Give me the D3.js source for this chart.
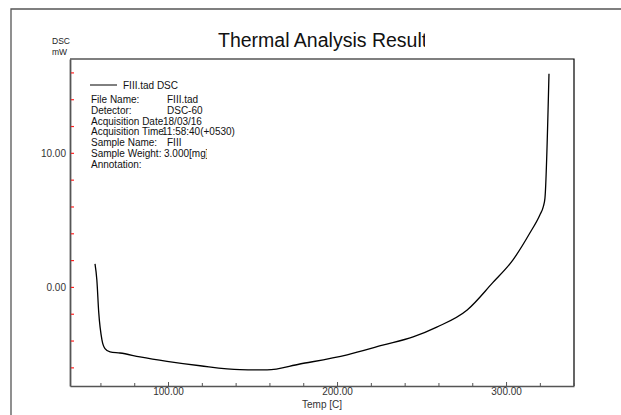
<!DOCTYPE html>
<html>
<head>
<meta charset="utf-8">
<script src="https://cdn.jsdelivr.net/npm/d3@7"></script>
<style>
  html, body { margin: 0; padding: 0; background: #fff; }
  svg { display: block; font-family: "Liberation Sans", Arial, sans-serif; }
</style>
</head>
<body>
<svg id="chart" width="621" height="415"></svg>
<script>
// ---- data ----
const temps = [56.8, 57.9, 59.0, 60.9, 62.7, 65.7, 71.6, 83.4, 99.4, 119, 142.6, 158.6, 178, 206, 227, 245, 259, 277, 292, 304, 314, 320, 322, 323, 325.4];
const dsc   = [1.72, 0.5, -1.9, -3.95, -4.6, -4.85, -4.93, -5.22, -5.55, -5.88, -6.17, -6.19, -5.75, -5.07, -4.35, -3.73, -3.0, -1.72, 0.3, 2.0, 4.0, 5.37, 5.97, 6.6, 15.9];
const xMajorTicks = [100, 200, 300];
const xMinorTicks = [60, 80, 120, 140, 160, 180, 220, 240, 260, 280, 320, 340];
const yTicks = [0, 10];
const yMinorTicks = [-6, -4, -2, 2, 4, 6, 8, 12, 14, 16];
const legendLabels = ["File Name:", "Detector:", "Acquisition Date", "Acquisition Time", "Sample Name:", "Sample Weight:", "Annotation:"];
const legendValues = ["FIII.tad", "DSC-60", "18/03/16", "11:58:40(+0530)", "FIII", "3.000[mg]", ""];

const svg = d3.select("#chart");
const L = 70, R = 574, T = 59, B = 386;
const x = d3.scaleLinear().domain([42, 340.2]).range([L, R]);
const y = d3.scaleLinear().domain([-7.39, 17.0]).range([B, T]);

// outer frame
svg.append("path").attr("d", `M11,415 L11,9 L621,9`).attr("fill", "none").attr("stroke", "#555").attr("stroke-width", 1.3);

// title (clipped)
svg.append("clipPath").attr("id", "titleClip").append("rect").attr("x", 150).attr("y", 20).attr("width", 275).attr("height", 40);
svg.append("text").attr("x", 218).attr("y", 47).attr("font-size", 19.5).attr("fill", "#111")
  .attr("clip-path", "url(#titleClip)").text("Thermal Analysis Result");

// y unit
svg.append("text").attr("x", 52).attr("y", 44).attr("font-size", 8.5).attr("fill", "#222").text("DSC");
svg.append("text").attr("x", 52).attr("y", 55).attr("font-size", 8.5).attr("fill", "#222").text("mW");

// plot frame top/right
svg.append("path").attr("d", `M${L},${T} L${R},${T} L${R},${B}`).attr("fill", "none").attr("stroke", "#000").attr("stroke-width", 1.2);

// x axis
const xAxis = d3.axisBottom(x).tickValues(xMajorTicks).tickSizeInner(-4).tickSizeOuter(0).tickPadding(2)
  .tickFormat(d3.format(".2f"));
const gx = svg.append("g").attr("transform", `translate(0,${B})`).call(xAxis);
gx.select(".domain").attr("stroke", "#555").attr("stroke-width", 1.6);
gx.selectAll(".tick line").attr("stroke", "#555");
gx.selectAll(".tick text").attr("font-size", 10).attr("fill", "#333").attr("font-family", "Liberation Sans, Arial, sans-serif");
const xMinor = d3.axisBottom(x).tickValues(xMinorTicks).tickSizeInner(-3).tickSizeOuter(0).tickFormat("");
const gxm = svg.append("g").attr("transform", `translate(0,${B})`).call(xMinor);
gxm.select(".domain").remove();
gxm.selectAll(".tick line").attr("stroke", "#555");

svg.append("text").attr("x", (299 + 345) / 2).attr("y", 408).attr("text-anchor", "middle")
  .attr("font-size", 10).attr("fill", "#333").text("Temp [C]");

// y axis
const yAxis = d3.axisLeft(y).tickValues(yTicks).tickSizeInner(0).tickSizeOuter(0).tickPadding(4)
  .tickFormat(d3.format(".2f"));
const gy = svg.append("g").attr("transform", `translate(${L},0)`).call(yAxis);
gy.select(".domain").attr("stroke", "#555").attr("stroke-width", 1.8);
gy.selectAll(".tick text").attr("font-size", 10).attr("fill", "#333").attr("font-family", "Liberation Sans, Arial, sans-serif");
const yRed = d3.axisRight(y).tickValues(yTicks.concat(yMinorTicks)).tickSizeInner(3).tickSizeOuter(0).tickFormat("");
const gyr = svg.append("g").attr("transform", `translate(${L + 1},0)`).call(yRed);
gyr.select(".domain").remove();
gyr.selectAll(".tick line").attr("stroke", "#f22").attr("stroke-width", 1.2);

// curve
const pts = temps.map((t, i) => [t, dsc[i]]);
const line = d3.line().x(d => x(d[0])).y(d => y(d[1])).curve(d3.curveMonotoneX);
svg.append("path").datum(pts).attr("d", line).attr("fill", "none").attr("stroke", "#000").attr("stroke-width", 1.3);

// legend
svg.append("line").attr("x1", 90).attr("x2", 117).attr("y1", 85).attr("y2", 85).attr("stroke", "#000").attr("stroke-width", 1);
svg.append("text").attr("x", 123).attr("y", 88.5).attr("font-size", 10).attr("fill", "#111").text("FIII.tad DSC");

const valX = [167, 167, 163, 162, 167, 164, 167];
const clipW = [60, 60, 60, 74, 60, 43, 60];
legendLabels.forEach((lab, i) => {
  const by = 103 + i * 10.8;
  svg.append("text").attr("x", 91).attr("y", by).attr("font-size", 10).attr("fill", "#111").text(lab);
  const cid = "lc" + i;
  svg.append("clipPath").attr("id", cid).append("rect").attr("x", valX[i]).attr("y", by - 12).attr("width", clipW[i]).attr("height", 15);
  svg.append("text").attr("x", valX[i]).attr("y", by).attr("font-size", 10).attr("fill", "#111")
    .attr("clip-path", `url(#${cid})`).text(legendValues[i]);
});
</script>
</body>
</html>
